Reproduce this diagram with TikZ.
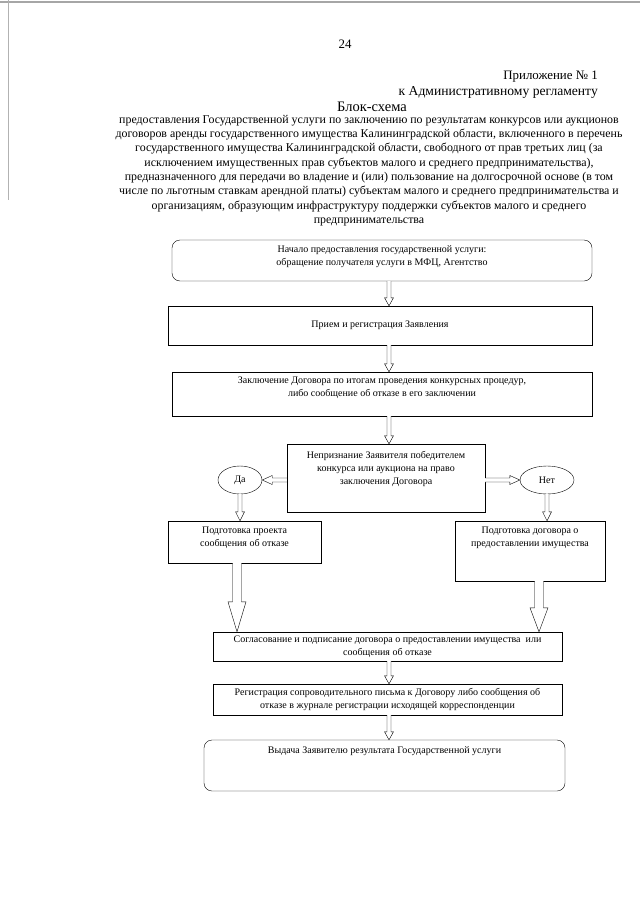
\documentclass[tikz,border=0pt]{standalone}
\usepackage{fontspec}
\setmainfont{Liberation Serif}
\usetikzlibrary{calc, shapes.geometric, positioning}

% hollow block arrow: start, end, shaft half width, head half width, head length
\newcommand{\holarrow}[5]{%
  \coordinate (hs) at #1;
  \coordinate (he) at #2;
  \coordinate (hb) at ($(he)!#5!(hs)$);
  \draw[arrowline] ($(hs)!#3!90:(he)$) -- ($(hb)!#3!90:(he)$) -- ($(hb)!#4!90:(he)$) -- (he)
     -- ($(hb)!#4!-90:(he)$) -- ($(hb)!#3!-90:(he)$) -- ($(hs)!#3!-90:(he)$);
}

\tikzset{
  box/.style={draw, thin, rectangle, inner sep=0pt, align=center, font=\fontsize{10}{13}\selectfont},
  rbox/.style={box, rounded corners=8pt},
  ans/.style={draw, thin, ellipse, inner sep=0pt, font=\fontsize{10}{13}\selectfont},
  toptxt/.style={align=center, inner sep=0pt, anchor=north, font=\fontsize{10}{13}\selectfont},
  arrowline/.style={thin, fill=white},
  head/.style={inner sep=0pt, font=\fontsize{12.9}{14.3}\selectfont},
}

\begin{document}
\begin{tikzpicture}[x=1pt, y=-1pt]
\useasboundingbox (0,0) rectangle (640,905);
\fill[white] (0,0) rectangle (640,905);

% scan edges
\draw[gray!70, line width=1.2pt] (0,2) -- (640,2);
\draw[gray!60, thin] (8,0) -- (8,200);

% page head
\node[head] (pnum) at (345,44) {24};
\node[head, anchor=base east] (app) at (598,79) {Приложение № 1};
\node[head, anchor=base east, font=\fontsize{13.6}{16}\selectfont] (reg) at (598,95.5) {к Административному регламенту};
\node[head, font=\fontsize{14.5}{17}\selectfont] (ttl) at (372,107) {Блок-схема};
\node[head, align=center, anchor=north, font=\fontsize{11.9}{14.3}\selectfont] (sub) at (369,115) {предоставления Государственной услуги по заключению по результатам конкурсов или аукционов\\
договоров аренды государственного имущества Калининградской области, включенного в перечень\\
государственного имущества Калининградской области, свободного от прав третьих лиц (за\\
исключением имущественных прав субъектов малого и среднего предпринимательства),\\
предназначенного для передачи во владение и (или) пользование на долгосрочной основе (в том\\
числе по льготным ставкам арендной платы) субъектам малого и среднего предпринимательства и\\
организациям, образующим инфраструктуру поддержки субъектов малого и среднего\\
предпринимательства};

% boxes
\node[rbox, minimum width=420pt, minimum height=41pt,
  label={[toptxt, yshift=-6pt]north:{Начало предоставления государственной услуги:\\ обращение получателя услуги в МФЦ, Агентство}}] (start) at (382,260.5) {};
\node[box, minimum width=424pt, minimum height=39pt] (recv) at (380,325.5) {Прием и регистрация Заявления};
\node[box, minimum width=420pt, minimum height=44pt,
  label={[toptxt, yshift=-5pt]north:{Заключение Договора по итогам проведения конкурсных процедур,\\ либо сообщение об отказе в его заключении}}] (concl) at (382,394) {};
\node[box, minimum width=198pt, minimum height=68pt,
  label={[toptxt, yshift=-7.5pt]north:{Непризнание Заявителя победителем\\ конкурса или аукциона на право\\ заключения Договора}}] (dec) at (386,478) {};
\node[ans, minimum width=44pt, minimum height=28pt] (yes) at (240,480) {Да};
\node[ans, minimum width=54pt, minimum height=28pt] (no) at (547,480) {Нет};
\node[box, minimum width=153pt, minimum height=42pt,
  label={[toptxt, yshift=-6pt]north:{Подготовка проекта\\ сообщения об отказе}}] (refuse) at (244.5,542) {};
\node[box, minimum width=150pt, minimum height=60pt,
  label={[toptxt, yshift=-6pt]north:{Подготовка договора о\\ предоставлении имущества}}] (contract) at (530,551) {};
\node[box, minimum width=349pt, minimum height=29pt] (sign) at (387.5,646.5) {Согласование и подписание договора о предоставлении имущества\ \ или\\ сообщения об отказе};
\node[box, minimum width=349pt, minimum height=31pt] (letter) at (387.5,699.5) {Регистрация сопроводительного письма к Договору либо сообщения об\\ отказе в журнале регистрации исходящей корреспонденции};
\node[rbox, minimum width=361pt, minimum height=51pt,
  label={[toptxt, yshift=-7pt]north:{Выдача Заявителю результата Государственной услуги}}] (issue) at (384.5,765.5) {};

% arrows
\coordinate (mid) at (389,0);
\coordinate (lft) at (237,0);
\coordinate (rgt) at (539,0);
\holarrow{(start.south -| mid)}{(recv.north -| mid)}{2pt}{4.5pt}{8pt}
\holarrow{(recv.south -| mid)}{(concl.north -| mid)}{2pt}{4.5pt}{8pt}
\holarrow{(concl.south -| mid)}{(dec.north -| mid)}{2pt}{4.5pt}{8pt}
\holarrow{(dec.west |- yes.east)}{(yes.east)}{2pt}{4.5pt}{10pt}
\holarrow{(dec.east |- no.west)}{(no.west)}{2pt}{4.5pt}{10pt}
\holarrow{(yes.south)}{(refuse.north -| yes.south)}{2pt}{4.5pt}{9pt}
\holarrow{(no.south)}{(contract.north -| no.south)}{2pt}{4.5pt}{9pt}
\holarrow{(refuse.south -| lft)}{(sign.north -| lft)}{4.5pt}{9pt}{30pt}
\holarrow{(contract.south -| rgt)}{(sign.north -| rgt)}{4.5pt}{9pt}{24pt}
\holarrow{(sign.south -| mid)}{(letter.north -| mid)}{2pt}{4.5pt}{8pt}
\holarrow{(letter.south -| mid)}{(issue.north -| mid)}{2pt}{4.5pt}{8pt}
\end{tikzpicture}
\end{document}
